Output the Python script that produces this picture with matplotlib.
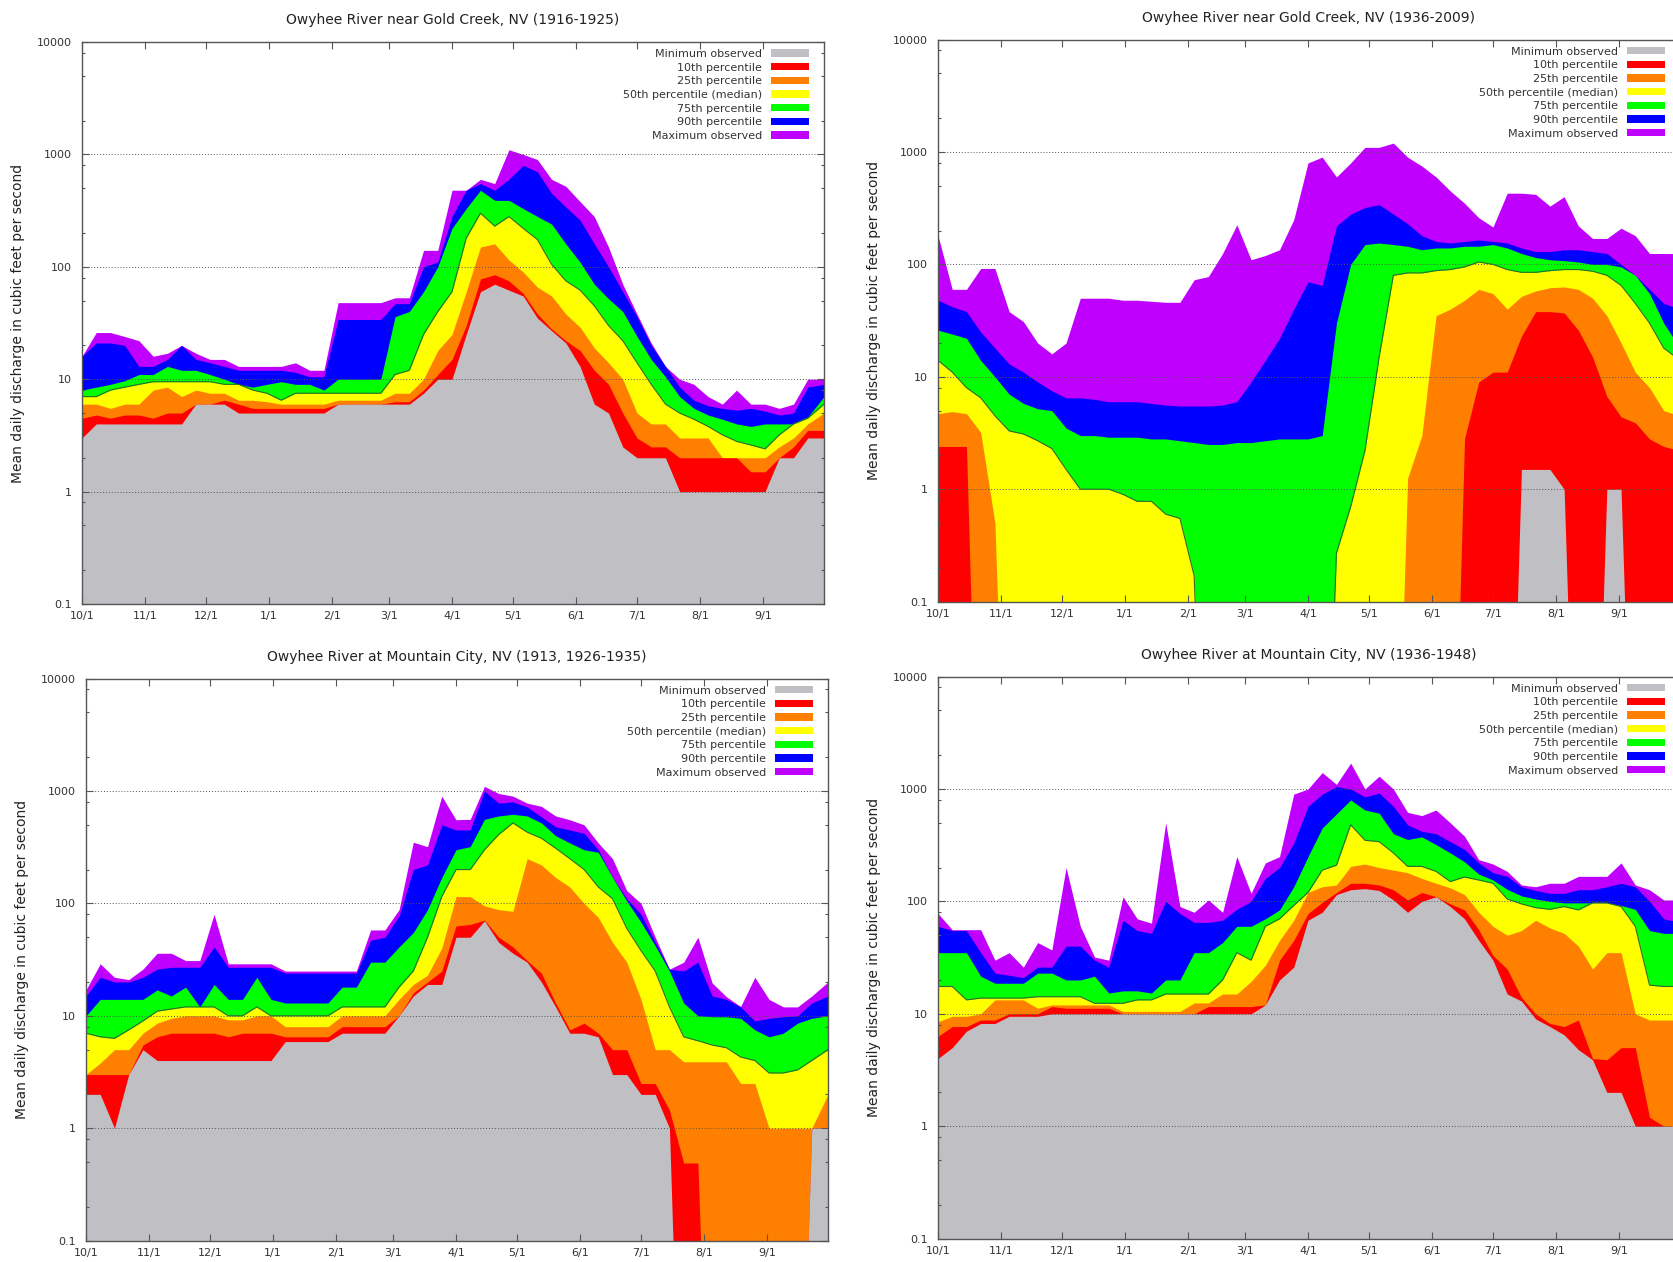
import numpy as np
import matplotlib

matplotlib.use("Agg")
import matplotlib.pyplot as plt
from matplotlib.patches import Patch
from matplotlib.ticker import FixedLocator, NullFormatter

DAYS = [0, 7, 14, 21, 28, 35, 42, 49, 56, 63, 70, 77, 84,
        91, 98, 105, 112, 119, 126, 133, 140, 147, 154, 161, 168, 175,
        182, 189, 196, 203, 210, 217, 224, 231, 238, 245, 252, 259, 266,
        273, 280, 287, 294, 301, 308, 315, 322, 329, 336, 343, 350, 357, 365]

MONTH_DAYS = [0, 31, 61, 92, 123, 151, 182, 212, 243, 273, 304, 335]
MONTH_LABELS = ["10/1", "11/1", "12/1", "1/1", "2/1", "3/1",
                "4/1", "5/1", "6/1", "7/1", "8/1", "9/1"]

LEGEND_LABELS = ["Minimum observed", "10th percentile", "25th percentile",
                 "50th percentile (median)", "75th percentile",
                 "90th percentile", "Maximum observed"]
COLORS = ["#c0bfc4", "#ff0000", "#ff8000", "#ffff00", "#00ff00", "#0000ff", "#c000ff"]
MEDIAN_EDGE = "#2f6b2f"
YLABEL = "Mean daily discharge in cubic feet per second"

# Owyhee River near Gold Creek, NV (1916-1925)
gc1_min = [3, 4, 4, 4, 4, 4, 4, 4, 6, 6, 6, 5, 5,
           5, 5, 5, 5, 5, 6, 6, 6, 6, 6, 6, 7.5, 10,
           10, 25, 60, 70, 62, 55, 35, 27, 21, 13, 6, 5, 2.5,
           2, 2, 2, 1, 1, 1, 1, 1, 1, 1, 2, 2, 3, 3]
gc1_p10 = [4.5, 4.8, 4.5, 4.8, 4.8, 4.5, 5, 5, 6, 6, 6.5, 6, 5.5,
           5.5, 5.5, 5.5, 5.5, 5.5, 6, 6, 6, 6, 6.3, 6.3, 8, 11,
           15, 30, 78, 85, 75, 58, 38, 28, 22, 18, 12, 9, 5,
           3, 2.5, 2.5, 2, 2, 2, 2, 2, 1.5, 1.5, 2, 2.5, 3.5, 3.5]
gc1_p25 = [6, 6, 5.5, 6, 6, 8, 8.5, 7, 8, 7.5, 7.5, 6.5, 6.5,
           6.3, 6, 6, 6, 6, 6.5, 6.5, 6.5, 6.5, 7.5, 7.5, 10, 18,
           25, 60, 150, 160, 115, 90, 66, 55, 38, 29, 19, 14, 10,
           5, 4, 4, 3, 3, 3, 2, 2, 2, 2, 2.5, 3, 4, 5]
gc1_p50 = [7, 7, 8, 8.5, 9, 9.5, 9.5, 9.5, 9.5, 9.5, 9, 9, 8,
           7.5, 6.5, 7.5, 7.5, 7.5, 7.5, 7.5, 7.5, 7.5, 11, 12, 25, 40,
           60, 180, 300, 230, 280, 220, 175, 105, 75, 62, 45, 30, 22,
           14, 9, 6, 5, 4.4, 3.8, 3.2, 2.8, 2.6, 2.4, 3.2, 4, 4.5, 6]
gc1_p75 = [8, 8.5, 9, 9.7, 11, 11, 13, 12, 12, 11, 10, 9, 8.5,
           9, 9.5, 9, 9, 8, 10, 10, 10, 10, 36, 40, 60, 100,
           220, 330, 480, 390, 390, 330, 280, 240, 160, 110, 70, 52, 40,
           24, 15, 10.5, 7, 5.5, 4.8, 4.4, 4, 3.8, 4, 4, 4, 4.6, 7]
gc1_p90 = [16, 21, 21, 20, 13, 13, 15, 20, 15, 14, 13, 12, 12,
           12, 12, 11.5, 10.5, 10.5, 34, 34, 34, 34, 47, 47, 100, 110,
           280, 480, 550, 480, 600, 800, 700, 450, 340, 260, 160, 100, 60,
           36, 20, 13, 8.5, 6.5, 5.8, 5.5, 5.3, 5.5, 5.2, 4.8, 5, 8.5, 9]
gc1_max = [16, 26, 26, 24, 22, 16, 17, 20, 17, 15, 15, 13, 13,
           13, 13, 14, 12, 12, 48, 48, 48, 48, 53, 53, 140, 140,
           480, 480, 600, 550, 1100, 1000, 900, 600, 520, 380, 280, 150, 70,
           38, 21, 13, 10, 9, 7, 6, 8, 6, 6, 5.5, 6, 10, 10]

# Owyhee River near Gold Creek, NV (1936-2009)
gc2_min = [0, 0, 0, 0, 0, 0, 0, 0, 0, 0, 0, 0, 0,
           0, 0, 0, 0, 0, 0, 0, 0, 0, 0, 0, 0, 0,
           0, 0, 0, 0, 0, 0, 0, 0, 0, 0, 0, 0, 0,
           0, 0, 1.5, 1.5, 1.5, 1, 0, 0, 1, 1, 0, 0, 0, 0]
gc2_p10 = [2.4, 2.4, 2.4, 0, 0, 0, 0, 0, 0, 0, 0, 0, 0,
           0, 0, 0, 0, 0, 0, 0, 0, 0, 0, 0, 0, 0,
           0, 0, 0, 0, 0, 0, 0, 0, 0, 0, 0, 2.8, 9,
           11, 11, 23, 38, 38, 37, 26, 15, 6.7, 4.4, 3.9, 2.8, 2.4, 2.2]
gc2_p25 = [4.7, 4.9, 4.7, 3.2, 0.5, 0, 0, 0, 0, 0, 0, 0, 0,
           0, 0, 0, 0, 0, 0, 0, 0, 0, 0, 0, 0, 0,
           0, 0, 0, 0, 0, 0, 0, 1.25, 3, 35, 40, 48, 60,
           55, 40, 52, 58, 62, 63, 60, 50, 35, 20, 11, 8, 5, 4.5]
gc2_p50 = [14, 11, 8, 6.5, 4.5, 3.3, 3.1, 2.7, 2.3, 1.5, 1.0, 1.0, 1.0,
           0.9, 0.78, 0.78, 0.6, 0.55, 0.17, 0, 0, 0, 0, 0, 0, 0,
           0, 0, 0.27, 0.7, 2.2, 15, 80, 84, 84, 88, 90, 95, 105,
           100, 90, 85, 85, 88, 90, 90, 87, 80, 65, 45, 30, 18, 14]
gc2_p75 = [26, 24, 22, 14, 10, 7, 5.8, 5.2, 5, 3.5, 3, 3, 2.9,
           2.9, 2.9, 2.8, 2.8, 2.7, 2.6, 2.5, 2.5, 2.6, 2.6, 2.7, 2.8, 2.8,
           2.8, 3.0, 30, 100, 150, 155, 150, 145, 135, 140, 140, 145, 145,
           150, 140, 125, 115, 110, 108, 105, 100, 100, 95, 80, 55, 30, 18]
gc2_p90 = [48, 42, 38, 25, 18, 13, 11, 9, 7.5, 6.5, 6.5, 6.3, 6,
           6, 6, 5.8, 5.6, 5.5, 5.5, 5.5, 5.6, 6, 9, 14, 22, 40,
           70, 65, 220, 280, 320, 340, 280, 230, 180, 160, 155, 160, 165,
           160, 155, 140, 130, 130, 135, 135, 130, 125, 100, 80, 60, 45, 40]
gc2_max = [180, 60, 60, 92, 92, 38, 31, 20, 16, 20, 50, 50, 50,
           48, 48, 47, 46, 46, 73, 78, 125, 225, 110, 120, 135, 250,
           800, 900, 600, 800, 1100, 1100, 1200, 900, 750, 600, 450, 350, 260,
           215, 430, 430, 420, 330, 400, 220, 170, 170, 210, 180, 125, 125, 125]

# Owyhee River at Mountain City, NV (1913, 1926-1935)
mc1_min = [2, 2, 1, 3, 5, 4, 4, 4, 4, 4, 4, 4, 4,
           4, 5.9, 5.9, 5.9, 5.9, 7, 7, 7, 7, 10, 15, 19, 19,
           50, 50, 70, 45, 36, 30, 20, 12, 7, 7, 6.5, 3, 3,
           2, 2, 1, 0, 0, 0, 0, 0, 0, 0, 0, 0, 1, 1]
mc1_p10 = [3, 3, 3, 3, 5.5, 6.5, 7, 7, 7, 7, 6.5, 7, 7,
           7, 6.5, 6.5, 6.5, 6.5, 8, 8, 8, 8, 10, 16, 20, 25,
           63, 65, 71, 50, 41, 31, 24, 13, 7.5, 8.6, 7, 5, 5,
           2.5, 2.5, 1.45, 0.49, 0.49, 0, 0, 0, 0, 0, 0, 0, 1, 1]
mc1_p25 = [3, 3.8, 5, 5, 7, 8.6, 9.5, 10, 10, 10, 9.2, 9.2, 10,
           10, 8, 8, 8, 8, 10, 10, 10, 10, 14, 19, 23, 40,
           115, 115, 95, 88, 85, 250, 220, 170, 140, 100, 75, 45, 30,
           14, 5, 5, 3.9, 3.9, 3.9, 3.9, 2.5, 2.5, 1, 1, 1, 1, 2]
mc1_p50 = [7, 6.5, 6.3, 7.5, 9, 11, 11.5, 12, 12, 12, 10, 10, 12,
           10, 10, 10, 10, 10, 12, 12, 12, 12, 18, 25, 50, 115,
           200, 200, 300, 410, 520, 430, 380, 310, 250, 200, 140, 110, 60,
           38, 25, 12, 6.5, 6, 5.5, 5.2, 4.3, 4, 3.1, 3.1, 3.3, 4, 5]
mc1_p75 = [10, 14, 14, 14, 14, 17, 15, 18, 12, 19, 14, 14, 22,
           14, 13, 13, 13, 13, 18, 18, 30, 30, 41, 55, 88, 170,
           300, 320, 560, 600, 620, 600, 520, 400, 345, 300, 285, 170, 105,
           68, 42, 25, 13, 10, 9.8, 9.8, 9.5, 7.5, 6.5, 7, 8.6, 9.5, 10]
mc1_p90 = [15, 22, 20, 20, 22, 26, 27, 27, 27, 41, 27, 27, 27,
           27, 24, 24, 24, 24, 24, 24, 47, 50, 77, 200, 220, 500,
           450, 450, 1000, 780, 800, 720, 590, 480, 450, 420, 300, 170, 110,
           80, 45, 26, 25, 30, 15, 14, 12, 9, 9.5, 9.8, 10, 13, 15]
mc1_max = [17, 29, 22, 21, 26, 36, 36, 31, 31, 80, 29, 29, 29,
           29, 25, 25, 25, 25, 25, 25, 58, 58, 88, 350, 320, 900,
           555, 560, 1100, 950, 900, 780, 730, 600, 555, 500, 345, 250, 130,
           100, 50, 26, 30, 50, 19.6, 14.8, 12.1, 22, 14, 12, 12, 15, 20]

# Owyhee River at Mountain City, NV (1936-1948)
mc2_min = [4, 5, 7, 8.2, 8.2, 9.5, 9.5, 9.5, 10, 10, 10, 10, 10,
           10, 10, 10, 10, 10, 10, 10, 10, 10, 10, 12, 20, 26,
           68, 80, 115, 127, 130, 125, 103, 80, 100, 110, 90, 70, 45,
           30, 15, 13, 9, 7.7, 6.5, 4.8, 3.9, 2, 2, 1, 1, 1, 1]
mc2_p10 = [6.3, 7.7, 7.7, 8.8, 8.8, 10, 10, 10, 11.6, 11.2, 11.2, 11.2, 11.2,
           10, 10, 10, 10, 10, 10, 11.6, 11.6, 11.6, 11.6, 12, 30, 45,
           78, 98, 120, 145, 145, 140, 127, 103, 120, 110, 95, 84, 56,
           33, 25, 14, 10, 8.2, 7.7, 8.8, 4, 3.9, 5, 5, 1.2, 1, 1]
mc2_p25 = [8.5, 9.5, 9.5, 10, 13.3, 13.3, 13.3, 11.2, 12, 12, 12, 12, 12,
           10.5, 10.5, 10.5, 10.5, 10.5, 12.5, 12.5, 15, 15, 19.4, 27, 45, 68,
           120, 135, 140, 205, 215, 200, 190, 180, 160, 145, 132, 115, 80,
           60, 50, 55, 68, 58, 52, 40, 25, 35, 35, 10, 8.8, 8.8, 8.8]
mc2_p50 = [17.5, 17.5, 13.3, 13.8, 13.8, 13.8, 13.8, 14.2, 14.2, 14.2, 14.2, 12.4, 12.4,
           12.4, 13.3, 13.3, 15, 15, 15, 15, 20, 35, 30, 60, 70, 92,
           120, 190, 210, 480, 350, 340, 270, 205, 205, 185, 150, 165, 155,
           145, 105, 95, 88, 85, 90, 84, 97, 97, 90, 60, 18, 17.5, 17.5]
mc2_p75 = [35, 35, 35, 21.6, 18.7, 18.7, 18.7, 23, 23, 20, 20, 21.6, 15.3,
           16, 16, 15.3, 20, 20, 35, 35, 43, 60, 60, 70, 84, 135,
           250, 450, 600, 800, 650, 610, 400, 355, 375, 320, 270, 225, 175,
           155, 128, 112, 105, 100, 97, 97, 97, 97, 92, 85, 55, 52, 52]
mc2_p90 = [60, 55, 55, 35, 23, 22, 21, 26, 26, 40, 40, 30, 26,
           68, 55, 52, 100, 78, 65, 65, 68, 85, 100, 160, 200, 330,
           700, 900, 1050, 1000, 850, 920, 700, 480, 420, 400, 340, 290, 220,
           180, 167, 135, 125, 118, 118, 127, 127, 135, 145, 135, 100, 70, 65]
mc2_max = [78, 56, 56, 56, 30, 35, 26, 43, 37, 200, 60, 32, 30,
           110, 70, 64, 500, 90, 80, 103, 80, 250, 118, 220, 250, 900,
           1000, 1400, 1100, 1700, 1000, 1300, 1000, 620, 580, 650, 500, 380, 235,
           215, 185, 140, 135, 145, 145, 167, 167, 167, 220, 140, 127, 103, 103]

FIG_W, FIG_H = 1673, 1262
AX_W, AX_H = 742, 562
FLOOR = 1e-4


def draw_panel(fig, left_px, top_px, title, series):
    ax = fig.add_axes([left_px / FIG_W, 1 - (top_px + AX_H) / FIG_H,
                       AX_W / FIG_W, AX_H / FIG_H])
    # maximum first, minimum last, each filled from the bottom
    for vals, color in reversed(list(zip(series, COLORS))):
        ax.fill_between(DAYS, FLOOR, np.maximum(vals, FLOOR),
                        color=color, linewidth=0)
    ax.plot(DAYS, np.maximum(series[3], FLOOR), color=MEDIAN_EDGE, lw=0.8)

    ax.set_yscale("log")
    ax.set_xlim(0, 365)
    ax.set_ylim(0.1, 10000)
    ax.set_yticks([0.1, 1, 10, 100, 1000, 10000])
    ax.set_yticklabels(["0.1", "1", "10", "100", "1000", "10000"])
    minors = [m * 10.0 ** e for e in range(-1, 4) for m in (2, 5, 8)]
    ax.yaxis.set_minor_locator(FixedLocator(minors))
    ax.yaxis.set_minor_formatter(NullFormatter())
    ax.set_xticks(MONTH_DAYS)
    ax.set_xticklabels(MONTH_LABELS)

    ax.tick_params(which="both", direction="in", top=True, right=True,
                   color="#555555", labelcolor="#333333", width=0.8)
    ax.tick_params(which="major", length=5, labelsize=8)
    ax.tick_params(which="minor", length=2.5)
    ax.tick_params(axis="y", pad=7)
    ax.tick_params(axis="x", pad=5)

    ax.grid(True, axis="y", which="major", linestyle=(0, (1, 2)),
            color="#555555", linewidth=0.7)
    ax.set_axisbelow(False)
    for s in ax.spines.values():
        s.set_color("#555555")
        s.set_linewidth(1.0)

    ax.set_title(title, fontsize=10, pad=13, color="#222222")
    ax.set_ylabel(YLABEL, fontsize=10, color="#222222")
    ax.yaxis.set_label_coords(-0.077, 0.5)

    handles = [Patch(facecolor=c, edgecolor="none") for c in COLORS]
    ax.legend(handles, LEGEND_LABELS, loc="upper right",
              bbox_to_anchor=(1 - 15 / AX_W, 1 - 7 / AX_H),
              frameon=False, markerfirst=False, fontsize=8,
              handlelength=3.4, handleheight=0.65, handletextpad=0.8,
              labelspacing=0.33, borderaxespad=0, borderpad=0,
              labelcolor="#333333")
    return ax


def main() -> int:
    fig = plt.figure(figsize=(FIG_W / 100, FIG_H / 100), dpi=100)
    draw_panel(fig, 82, 42, "Owyhee River near Gold Creek, NV (1916-1925)",
               [gc1_min, gc1_p10, gc1_p25, gc1_p50, gc1_p75, gc1_p90, gc1_max])
    draw_panel(fig, 938, 39.6, "Owyhee River near Gold Creek, NV (1936-2009)",
               [gc2_min, gc2_p10, gc2_p25, gc2_p50, gc2_p75, gc2_p90, gc2_max])
    draw_panel(fig, 86, 678.6, "Owyhee River at Mountain City, NV (1913, 1926-1935)",
               [mc1_min, mc1_p10, mc1_p25, mc1_p50, mc1_p75, mc1_p90, mc1_max])
    draw_panel(fig, 938, 676.6, "Owyhee River at Mountain City, NV (1936-1948)",
               [mc2_min, mc2_p10, mc2_p25, mc2_p50, mc2_p75, mc2_p90, mc2_max])
    fig.savefig("out.png", dpi=100, facecolor="white")
    return 0


if __name__ == "__main__":
    raise SystemExit(main())
